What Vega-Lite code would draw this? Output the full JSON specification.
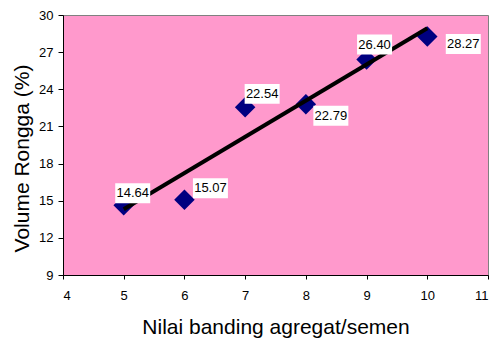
{
  "$schema": "https://vega.github.io/schema/vega-lite/v6.json",
  "width": 425,
  "height": 260,
  "autosize": "none",
  "padding": {"left": 63, "top": 15, "right": 4, "bottom": 64},
  "background": "white",
  "config": {
    "font": "Liberation Sans",
    "view": {"fill": "#FF99CC", "stroke": "#808080", "strokeWidth": 1},
    "axis": {
      "grid": false,
      "domainColor": "black",
      "tickColor": "black",
      "labelColor": "black",
      "titleColor": "black",
      "labelFont": "Liberation Sans",
      "titleFont": "Liberation Sans",
      "labelFontSize": 13,
      "titleFontSize": 21,
      "titleFontWeight": "normal"
    }
  },
  "data": {
    "values": [
      {"x": 5, "y": 14.64, "label": "14.64"},
      {"x": 6, "y": 15.07, "label": "15.07"},
      {"x": 7, "y": 22.54, "label": "22.54"},
      {"x": 8, "y": 22.79, "label": "22.79"},
      {"x": 9, "y": 26.40, "label": "26.40"},
      {"x": 10, "y": 28.27, "label": "28.27"}
    ]
  },
  "encoding": {
    "x": {
      "field": "x", "type": "quantitative",
      "scale": {"domain": [4, 11], "nice": false, "zero": false},
      "axis": {
        "title": "Nilai banding agregat/semen",
        "values": [4, 5, 6, 7, 8, 9, 10, 11],
        "tickSize": 4,
        "labelPadding": 10,
        "titleBaseline": "alphabetic",
        "titleY": 58
      }
    },
    "y": {
      "field": "y", "type": "quantitative",
      "scale": {"domain": [9, 30], "nice": false, "zero": false},
      "axis": {
        "title": "Volume Rongga (%)",
        "values": [9, 12, 15, 18, 21, 24, 27, 30],
        "tickSize": 5,
        "labelPadding": 5,
        "titleBaseline": "alphabetic",
        "titleX": -35,
        "titleY": 143
      }
    }
  },
  "layer": [
    {
      "mark": {"type": "point", "shape": "diamond", "filled": true, "color": "#000080", "opacity": 1, "size": 420}
    },
    {
      "transform": [{"regression": "y", "on": "x"}],
      "mark": {"type": "line", "color": "black", "strokeWidth": 4}
    },
    {
      "transform": [{"filter": "datum.x == 5"}],
      "layer": [
        {"mark": {"type": "point", "shape": "M-1,-0.57H1V0.57H-1Z", "filled": true, "color": "white", "opacity": 1, "size": 1225, "xOffset": 9, "yOffset": -12}},
        {"mark": {"type": "text", "fontSize": 13, "color": "black", "baseline": "alphabetic", "xOffset": 9, "yOffset": -8}, "encoding": {"text": {"field": "label"}}}
      ]
    },
    {
      "transform": [{"filter": "datum.x == 6"}],
      "layer": [
        {"mark": {"type": "point", "shape": "M-1,-0.57H1V0.57H-1Z", "filled": true, "color": "white", "opacity": 1, "size": 1225, "xOffset": 26, "yOffset": -11.5}},
        {"mark": {"type": "text", "fontSize": 13, "color": "black", "baseline": "alphabetic", "xOffset": 26, "yOffset": -7.5}, "encoding": {"text": {"field": "label"}}}
      ]
    },
    {
      "transform": [{"filter": "datum.x == 7"}],
      "layer": [
        {"mark": {"type": "point", "shape": "M-1,-0.57H1V0.57H-1Z", "filled": true, "color": "white", "opacity": 1, "size": 1225, "xOffset": 17, "yOffset": -13.5}},
        {"mark": {"type": "text", "fontSize": 13, "color": "black", "baseline": "alphabetic", "xOffset": 17, "yOffset": -9.5}, "encoding": {"text": {"field": "label"}}}
      ]
    },
    {
      "transform": [{"filter": "datum.x == 8"}],
      "layer": [
        {"mark": {"type": "point", "shape": "M-1,-0.57H1V0.57H-1Z", "filled": true, "color": "white", "opacity": 1, "size": 1225, "xOffset": 25, "yOffset": 11.5}},
        {"mark": {"type": "text", "fontSize": 13, "color": "black", "baseline": "alphabetic", "xOffset": 25, "yOffset": 15.5}, "encoding": {"text": {"field": "label"}}}
      ]
    },
    {
      "transform": [{"filter": "datum.x == 9"}],
      "layer": [
        {"mark": {"type": "point", "shape": "M-1,-0.57H1V0.57H-1Z", "filled": true, "color": "white", "opacity": 1, "size": 1225, "xOffset": 8, "yOffset": -15}},
        {"mark": {"type": "text", "fontSize": 13, "color": "black", "baseline": "alphabetic", "xOffset": 8, "yOffset": -11}, "encoding": {"text": {"field": "label"}}}
      ]
    },
    {
      "transform": [{"filter": "datum.x == 10"}],
      "layer": [
        {"mark": {"type": "point", "shape": "M-1,-0.57H1V0.57H-1Z", "filled": true, "color": "white", "opacity": 1, "size": 1225, "xOffset": 36, "yOffset": 7.5}},
        {"mark": {"type": "text", "fontSize": 13, "color": "black", "baseline": "alphabetic", "xOffset": 36, "yOffset": 11.5}, "encoding": {"text": {"field": "label"}}}
      ]
    }
  ]
}
